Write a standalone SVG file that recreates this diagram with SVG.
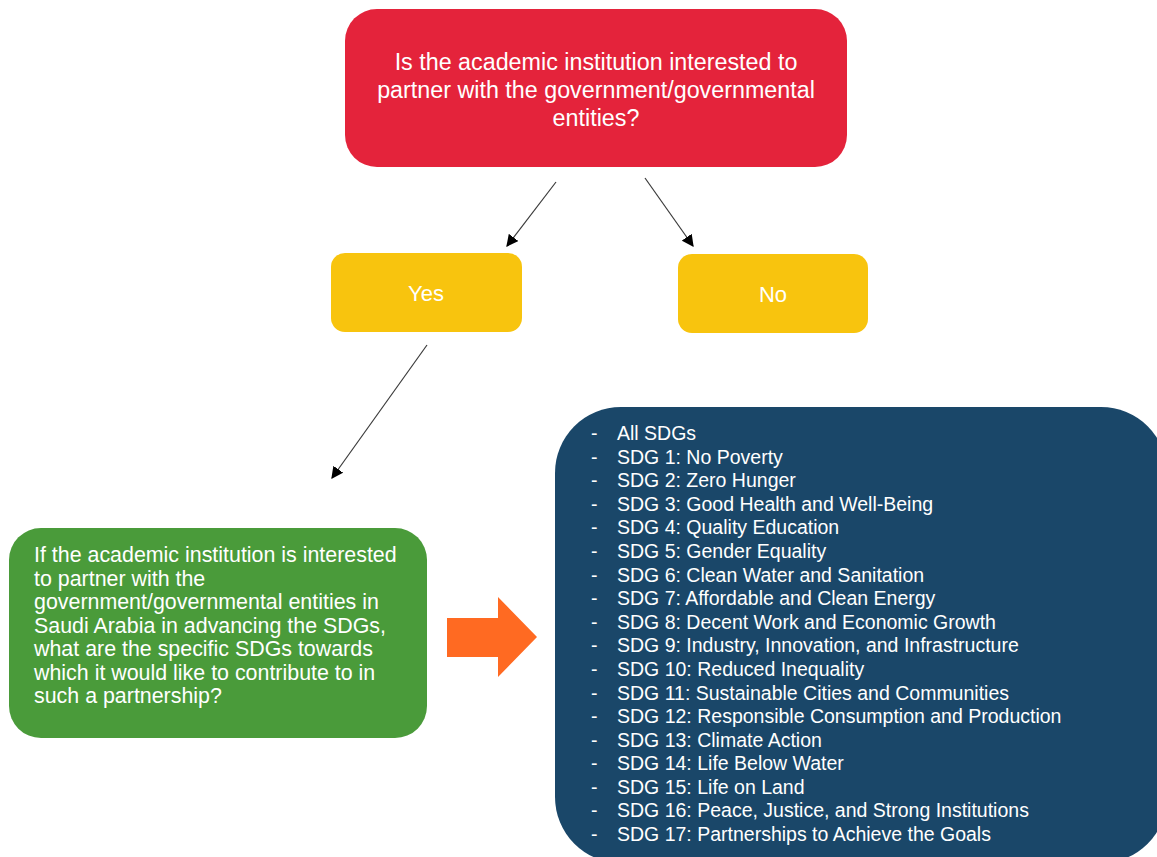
<svg xmlns="http://www.w3.org/2000/svg" width="1157" height="857" viewBox="0 0 1157 857">
  <style>
    .lbl { font-family: "Liberation Sans", Arial, Helvetica, sans-serif; fill: #ffffff; }
    .q { font-size: 23.3px; text-anchor: middle; }
    .yn { font-size: 22px; text-anchor: middle; }
    .body { font-size: 21.4px; }
    .list { font-size: 19.5px; }
    .edge { stroke: #3a3a3a; stroke-width: 1.2; fill: none; marker-end: url(#arrow); }
  </style>
  <defs>
    <marker id="arrow" viewBox="0 0 10 10" refX="9" refY="5" markerWidth="12" markerHeight="12" markerUnits="userSpaceOnUse" orient="auto">
      <path d="M0,0 L10,5 L0,10 z" fill="#000000"/>
    </marker>
  </defs>

  <rect width="1157" height="857" fill="#ffffff"/>

  <!-- Question -->
  <g id="question">
    <rect x="345" y="9" width="502" height="158" rx="32" fill="#E4233B"/>
    <text class="lbl q" x="596" y="70">Is the academic institution interested to</text>
    <text class="lbl q" x="596" y="98">partner with the government/governmental</text>
    <text class="lbl q" x="596" y="126">entities?</text>
  </g>

  <!-- Answers -->
  <g id="yes">
    <rect x="331" y="253" width="191" height="79" rx="14" fill="#F8C40E"/>
    <text class="lbl yn" x="426" y="301">Yes</text>
  </g>
  <g id="no">
    <rect x="678" y="254" width="190" height="79" rx="14" fill="#F8C40E"/>
    <text class="lbl yn" x="773" y="302">No</text>
  </g>

  <!-- Follow-up question -->
  <g id="followup">
    <rect x="9" y="528" width="418" height="210" rx="32" fill="#4A9B3A"/>
    <text class="lbl body" x="34" y="562">If the academic institution is interested</text>
    <text class="lbl body" x="34" y="586">to partner with the</text>
    <text class="lbl body" x="34" y="609">government/governmental entities in</text>
    <text class="lbl body" x="34" y="633">Saudi Arabia in advancing the SDGs,</text>
    <text class="lbl body" x="34" y="656">what are the specific SDGs towards</text>
    <text class="lbl body" x="34" y="680">which it would like to contribute to in</text>
    <text class="lbl body" x="34" y="703">such a partnership?</text>
  </g>

  <!-- Block arrow -->
  <g id="block-arrow">
    <polygon points="447,618 498,618 498,597 537,637 498,677 498,657 447,657" fill="#FF6A22"/>
  </g>

  <!-- SDG list -->
  <g id="sdg-list">
    <rect x="555" y="407" width="612" height="456" rx="66" fill="#1A4769"/>
    <g class="lbl list">
      <text x="591" y="440">-</text><text x="617" y="440">All SDGs</text>
      <text x="591" y="464">-</text><text x="617" y="464">SDG 1: No Poverty</text>
      <text x="591" y="487">-</text><text x="617" y="487">SDG 2: Zero Hunger</text>
      <text x="591" y="511">-</text><text x="617" y="511">SDG 3: Good Health and Well-Being</text>
      <text x="591" y="534">-</text><text x="617" y="534">SDG 4: Quality Education</text>
      <text x="591" y="558">-</text><text x="617" y="558">SDG 5: Gender Equality</text>
      <text x="591" y="582">-</text><text x="617" y="582">SDG 6: Clean Water and Sanitation</text>
      <text x="591" y="605">-</text><text x="617" y="605">SDG 7: Affordable and Clean Energy</text>
      <text x="591" y="629">-</text><text x="617" y="629">SDG 8: Decent Work and Economic Growth</text>
      <text x="591" y="652">-</text><text x="617" y="652">SDG 9: Industry, Innovation, and Infrastructure</text>
      <text x="591" y="676">-</text><text x="617" y="676">SDG 10: Reduced Inequality</text>
      <text x="591" y="700">-</text><text x="617" y="700">SDG 11: Sustainable Cities and Communities</text>
      <text x="591" y="723">-</text><text x="617" y="723">SDG 12: Responsible Consumption and Production</text>
      <text x="591" y="747">-</text><text x="617" y="747">SDG 13: Climate Action</text>
      <text x="591" y="770">-</text><text x="617" y="770">SDG 14: Life Below Water</text>
      <text x="591" y="794">-</text><text x="617" y="794">SDG 15: Life on Land</text>
      <text x="591" y="817">-</text><text x="617" y="817">SDG 16: Peace, Justice, and Strong Institutions</text>
      <text x="591" y="841">-</text><text x="617" y="841">SDG 17: Partnerships to Achieve the Goals</text>
    </g>
  </g>

  <!-- Connectors -->
  <g id="connectors">
    <line class="edge" x1="556" y1="182" x2="507" y2="246"/>
    <line class="edge" x1="645" y1="178" x2="693" y2="246"/>
    <line class="edge" x1="427" y1="345" x2="332" y2="478"/>
  </g>
</svg>
